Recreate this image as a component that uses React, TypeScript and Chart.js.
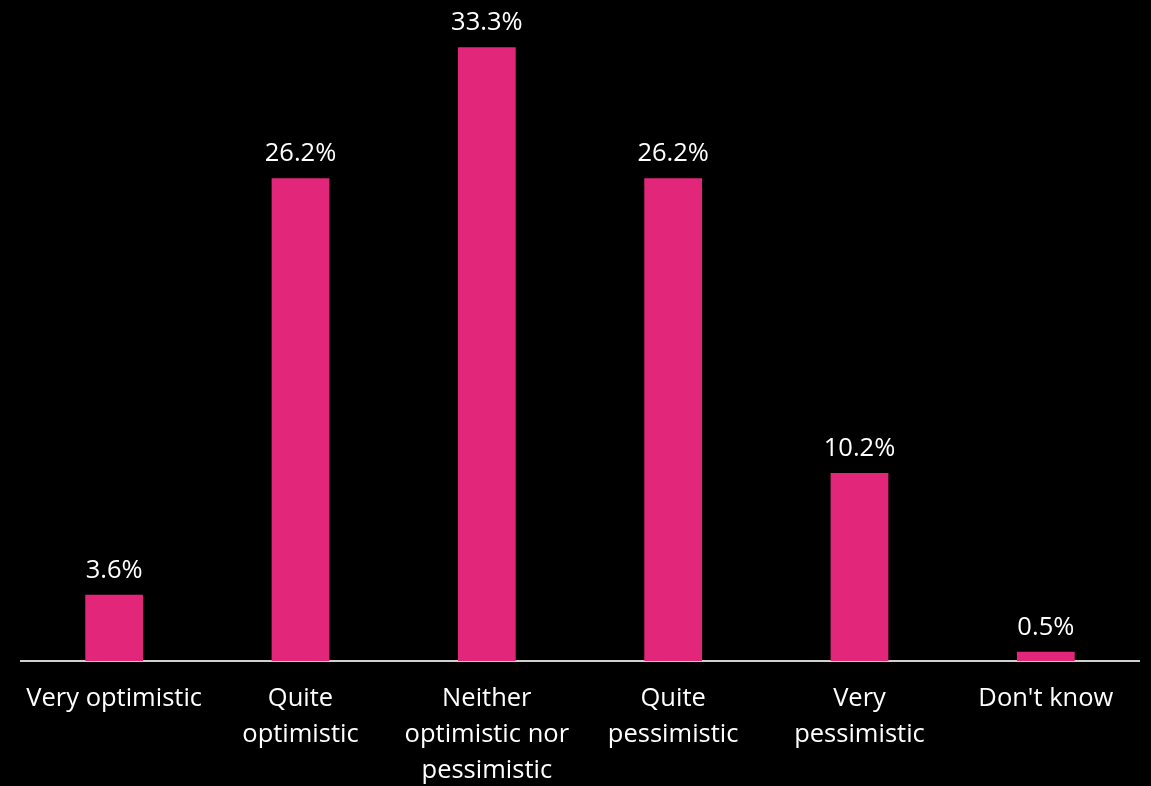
import React, { useEffect, useRef } from "react";
import { Chart, registerables } from "chart.js";

Chart.register(...registerables);

const categories: string[][] = [
  ["Very optimistic"],
  ["Quite", "optimistic"],
  ["Neither", "optimistic nor", "pessimistic"],
  ["Quite", "pessimistic"],
  ["Very", "pessimistic"],
  ["Don't know"],
];
const values: number[] = [3.6, 26.2, 33.3, 26.2, 10.2, 0.5];
const valueLabels: string[] = ["3.6%", "26.2%", "33.3%", "26.2%", "10.2%", "0.5%"];

const FONT = "'Open Sans', sans-serif";

export default function App() {
  const ref = useRef<HTMLCanvasElement | null>(null);
  useEffect(() => {
    document.body.style.margin = "0";
    document.body.style.background = "#000";
    const labelsPlugin = {
      id: "labelsPlugin",
      afterDraw(chart: any) {
        const ctx = chart.ctx;
        const meta = chart.getDatasetMeta(0);
        const xs = chart.scales.x;
        ctx.save();
        ctx.fillStyle = "#ffffff";
        ctx.font = `25.5px ${FONT}`;
        ctx.textAlign = "center";
        ctx.textBaseline = "alphabetic";
        meta.data.forEach((bar: any, i: number) => {
          ctx.fillText(valueLabels[i], bar.x, bar.y - 17);
        });
        ctx.textBaseline = "middle";
        categories.forEach((lines, i) => {
          const x = xs.getPixelForValue(i);
          lines.forEach((ln, j) => {
            ctx.fillText(ln, x, 699 + j * 36);
          });
        });
        ctx.restore();
      },
    };
    const chart = new Chart(ref.current as HTMLCanvasElement, {
      type: "bar",
      data: {
        labels: categories.map((c) => c.join(" ")),
        datasets: [
          {
            data: values,
            backgroundColor: "#E2267A",
            barPercentage: 0.31,
            categoryPercentage: 1,
          },
        ],
      },
      options: {
        responsive: false,
        animation: false,
        layout: { padding: { top: 16, left: 21, right: 12, bottom: 125 } },
        plugins: { legend: { display: false }, tooltip: { enabled: false } },
        scales: {
          x: {
            grid: { display: false, drawTicks: false },
            border: { color: "#D0D0D0", width: 2 },
            ticks: { display: false },
          },
          y: { display: false, min: 0, max: 35 },
        },
      },
      plugins: [labelsPlugin],
    });
    return () => chart.destroy();
  }, []);
  return (
    <div style={{ width: 1151, height: 786, background: "#000" }}>
      <canvas ref={ref} width={1151} height={786} style={{ display: "block" }} />
    </div>
  );
}
